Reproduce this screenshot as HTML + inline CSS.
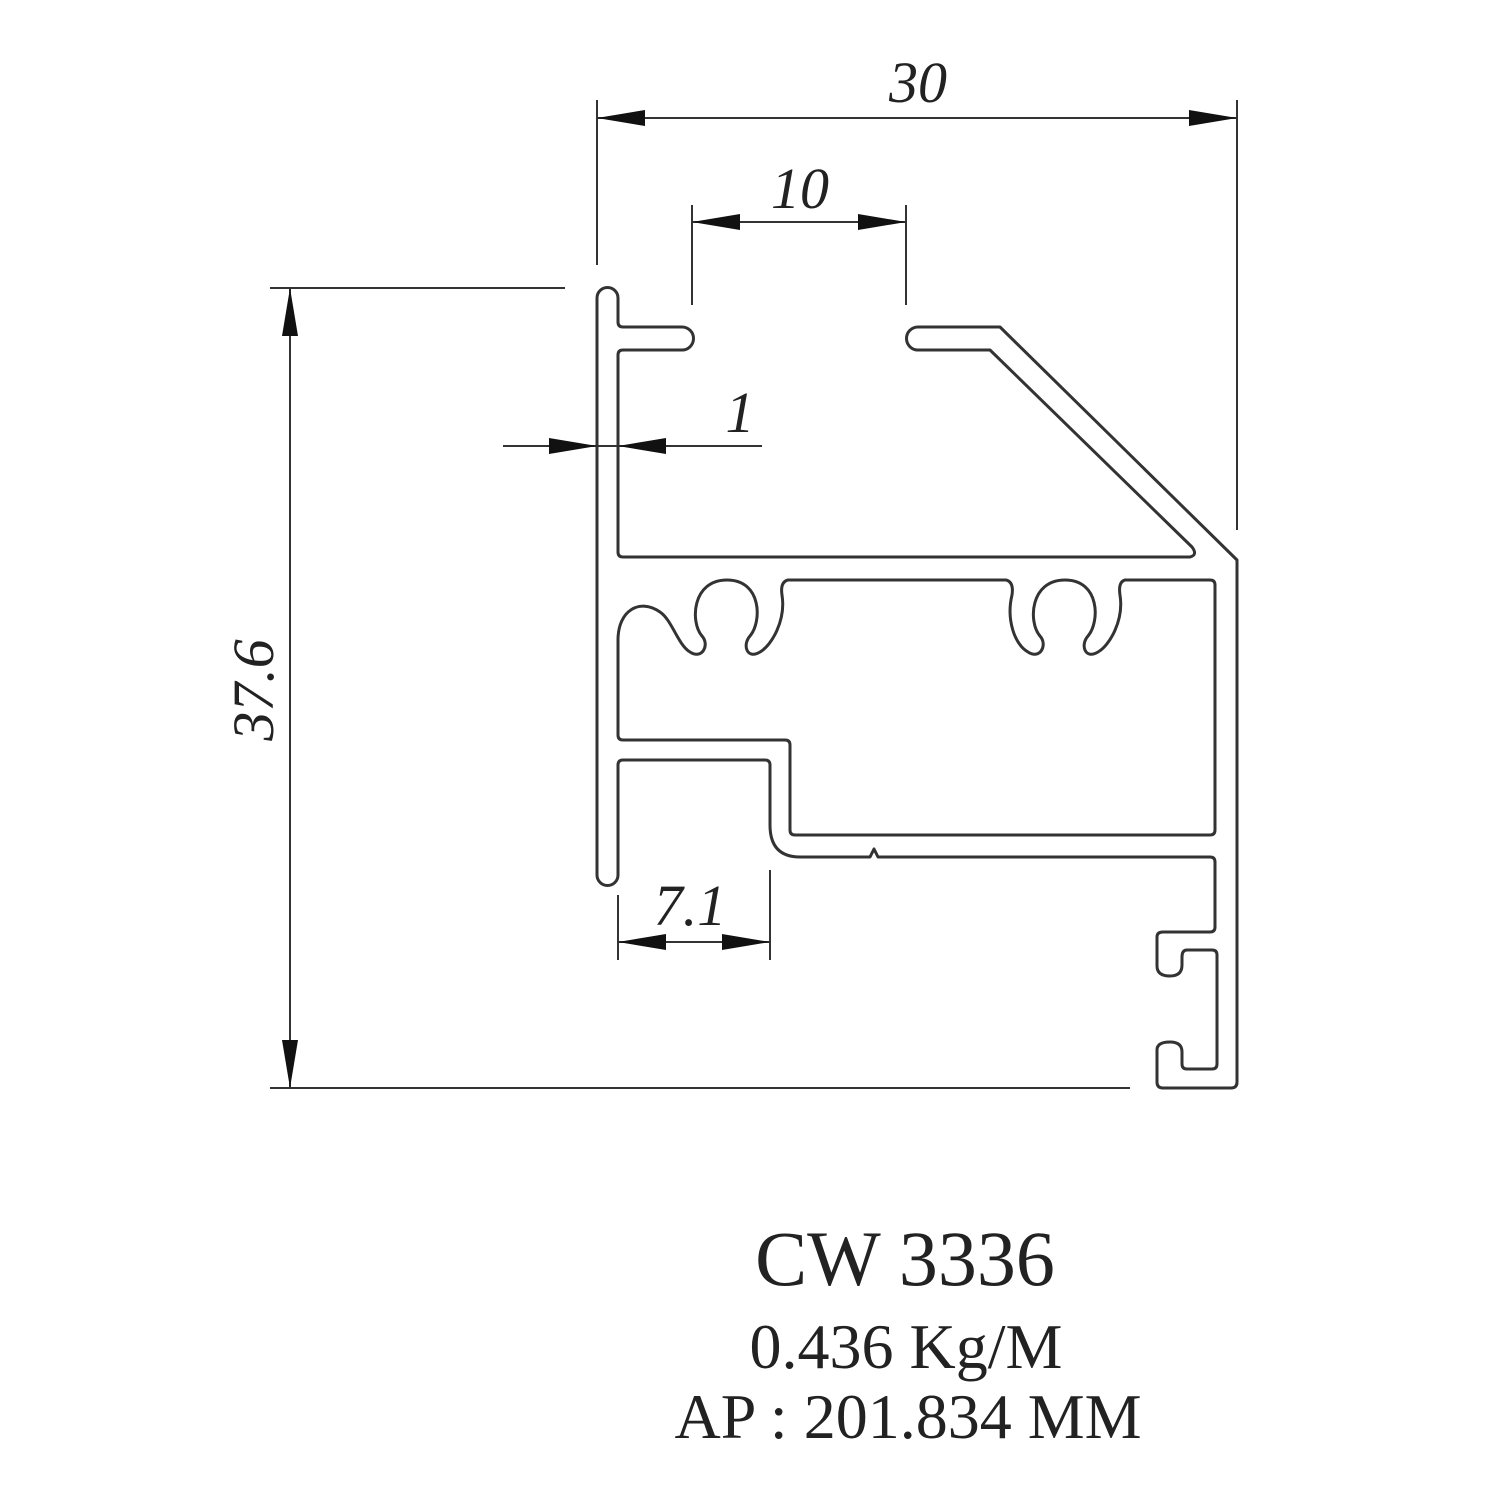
<!DOCTYPE html>
<html><head><meta charset="utf-8"><style>
html,body{margin:0;padding:0;background:#fff}
svg{display:block}
</style></head><body>
<svg width="1500" height="1500" viewBox="0 0 1500 1500" xmlns="http://www.w3.org/2000/svg">
<g fill="none" stroke="#333" stroke-width="3" stroke-linejoin="round" stroke-linecap="round">
<path d="M618,875 A10.5,10.5 0 0 1 597,875 L597,298 A10.5,10.5 0 0 1 618,298 L618,322 Q618,327 623,327 L682,327 A11.5,11.5 0 0 1 682,350 L623,350 Q618,350 618,355 L618,552 Q618,557 623,557 L1190,557 Q1198,555 1192,547 L990,350 L918,350 A11.5,11.5 0 0 1 918,327 L1000,327 L1237,560 L1237,1082 Q1237,1088 1231,1088 L1163,1088 Q1157,1088 1157,1082 L1157,1050 Q1157,1042 1170,1042 Q1182,1042 1182,1052 L1182,1064 Q1182,1069 1187,1069 L1212,1069 Q1217,1069 1217,1064 L1217,955 Q1217,950 1212,950 L1187,950 Q1182,950 1182,957 L1182,965 Q1182,976 1170,976 Q1157,976 1157,966 L1157,937 Q1157,932 1163,932 L1210,932 Q1215,932 1215,927 L1215,862 Q1215,857 1210,857 L878,857 L874,849 L870,857 L800,857 Q770,857 770,825 L770,765 Q770,760 765,760 L623,760 Q618,760 618,765 Z"/>
<path d="M618,735 Q618,740 623,740 L785,740 Q790,740 790,745 L790,830 Q790,835 795,835 L1210,835 Q1215,835 1215,830 L1215,585 Q1215,580 1210,580 L1125,580 Q1118,582 1120,595 C1124,620 1110,645 1098,652 C1085,660 1080,645 1088,636 C1100,622 1100,580 1065,580 C1030,580 1028,622 1040,636 C1048,645 1040,660 1028,652 C1015,645 1006,620 1012,595 Q1014,582 1006,580 L788,580 Q780,582 782,595 C786,620 772,645 760,652 C747,660 742,645 750,636 C762,622 762,580 727,580 C692,580 690,622 702,636 C710,645 702,660 690,652 C678,645 672,620 660,612 C640,598 618,610 618,640 Z"/>
</g>
<g stroke="#333" stroke-width="2" fill="none">
<line x1="597" y1="100" x2="597" y2="265"/>
<line x1="1237" y1="100" x2="1237" y2="530"/>
<line x1="692" y1="205" x2="692" y2="305"/>
<line x1="906" y1="205" x2="906" y2="305"/>
<line x1="270" y1="288" x2="565" y2="288"/>
<line x1="270" y1="1088" x2="1130" y2="1088"/>
<line x1="618" y1="895" x2="618" y2="960"/>
<line x1="770" y1="870" x2="770" y2="960"/>
<line x1="597" y1="118" x2="1237" y2="118"/>
<line x1="692" y1="222" x2="906" y2="222"/>
<line x1="503" y1="446" x2="762" y2="446"/>
<line x1="290" y1="288" x2="290" y2="1088"/>
<line x1="618" y1="942" x2="770" y2="942"/>
</g>
<g fill="#111">
<polygon points="597,118 645,110 645,126"/>
<polygon points="1237,118 1189,110 1189,126"/>
<polygon points="692,222 740,214 740,230"/>
<polygon points="906,222 858,214 858,230"/>
<polygon points="597,446 549,438 549,454"/>
<polygon points="618,446 666,438 666,454"/>
<polygon points="290,288 282,336 298,336"/>
<polygon points="290,1088 282,1040 298,1040"/>
<polygon points="618,942 666,934 666,950"/>
<polygon points="770,942 722,934 722,950"/>
</g>
<g font-family="Liberation Serif, serif" fill="#222" font-style="italic" font-size="58" text-anchor="middle">
<text x="918" y="102">30</text>
<text x="800" y="208">10</text>
<text x="740" y="432">1</text>
<text x="690" y="925">7.1</text>
<text transform="translate(273,690) rotate(-90)">37.6</text>
</g>
<g font-family="Liberation Serif, serif" fill="#222" text-anchor="middle">
<text x="905" y="1285" font-size="78">CW 3336</text>
<text x="906" y="1368" font-size="64">0.436 Kg/M</text>
<text x="908" y="1438" font-size="64">AP : 201.834 MM</text>
</g>
</svg>
</body></html>
